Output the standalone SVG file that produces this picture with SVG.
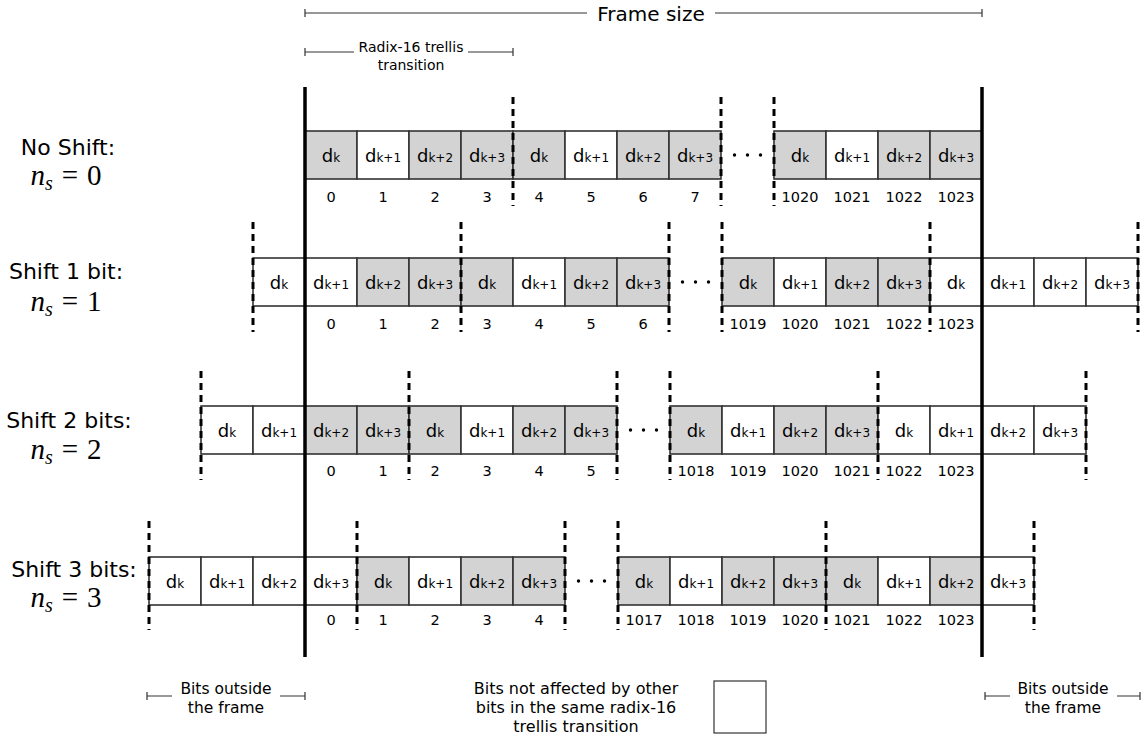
<svg xmlns="http://www.w3.org/2000/svg" width="1146" height="736" viewBox="0 0 1146 736">
<style>
.c{stroke:#333;stroke-width:1.6}
.g{fill:#d3d3d3}
.w{fill:#fff}
.t{font-family:"DejaVu Sans",sans-serif;font-size:18px;text-anchor:middle;fill:#000}
.s{font-size:12px}
.n{font-family:"DejaVu Sans",sans-serif;font-size:14.5px;text-anchor:middle;fill:#000}
.l{font-family:"DejaVu Sans",sans-serif;font-size:22px;text-anchor:middle;fill:#000}
.m{font-family:"Liberation Serif",serif;font-size:29px;text-anchor:middle;fill:#000}
.d{stroke:#000;stroke-width:3;stroke-dasharray:7 5;fill:none}
.th{stroke:#000;stroke-width:3.5;fill:none}
.r{stroke:#333;stroke-width:1.2;fill:none}
.sm{font-family:"DejaVu Sans",sans-serif;font-size:16px;text-anchor:middle;fill:#000}
.bo{font-family:"DejaVu Sans",sans-serif;font-size:15.5px;text-anchor:middle;fill:#000}
.rx{font-family:"DejaVu Sans",sans-serif;font-size:14px;text-anchor:middle;fill:#000}
</style>
<rect width="1146" height="736" fill="#fff"/>

<g id="frame-size">
<path class="r" d="M305 13H587M715 13H982M305 9V17M982 9V17"/>
<text x="651" y="21" font-family="DejaVu Sans,sans-serif" font-size="20" text-anchor="middle">Frame size</text>
</g>
<g id="radix-label">
<path class="r" d="M305 52H354M468 52H513M305 48V56M513 48V56"/>
<text class="rx" x="411" y="52">Radix-16 trellis</text>
<text class="rx" x="411" y="70">transition</text>
</g>

<g id="labels">
<text class="l" x="68" y="155">No Shift:</text>
<text class="m" x="66" y="185"><tspan font-style="italic">n</tspan><tspan font-style="italic" font-size="20" dy="5">s</tspan><tspan dy="-5" dx="9">=</tspan><tspan dx="9">0</tspan></text>
<text class="l" x="66" y="279">Shift 1 bit:</text>
<text class="m" x="66" y="311"><tspan font-style="italic">n</tspan><tspan font-style="italic" font-size="20" dy="5">s</tspan><tspan dy="-5" dx="9">=</tspan><tspan dx="9">1</tspan></text>
<text class="l" x="69" y="428">Shift 2 bits:</text>
<text class="m" x="66" y="459"><tspan font-style="italic">n</tspan><tspan font-style="italic" font-size="20" dy="5">s</tspan><tspan dy="-5" dx="9">=</tspan><tspan dx="9">2</tspan></text>
<text class="l" x="74" y="577">Shift 3 bits:</text>
<text class="m" x="66" y="607"><tspan font-style="italic">n</tspan><tspan font-style="italic" font-size="20" dy="5">s</tspan><tspan dy="-5" dx="9">=</tspan><tspan dx="9">3</tspan></text>
</g>

<g id="row0" transform="translate(0,131)">
<rect class="c g" x="305" y="0" width="52" height="48"/><text class="t" x="331" y="31">d<tspan class="s">k</tspan></text>
<rect class="c w" x="357" y="0" width="52" height="48"/><text class="t" x="383" y="31">d<tspan class="s">k+1</tspan></text>
<rect class="c g" x="409" y="0" width="52" height="48"/><text class="t" x="435" y="31">d<tspan class="s">k+2</tspan></text>
<rect class="c g" x="461" y="0" width="52" height="48"/><text class="t" x="487" y="31">d<tspan class="s">k+3</tspan></text>
<rect class="c g" x="513" y="0" width="52" height="48"/><text class="t" x="539" y="31">d<tspan class="s">k</tspan></text>
<rect class="c w" x="565" y="0" width="52" height="48"/><text class="t" x="591" y="31">d<tspan class="s">k+1</tspan></text>
<rect class="c g" x="617" y="0" width="52" height="48"/><text class="t" x="643" y="31">d<tspan class="s">k+2</tspan></text>
<rect class="c g" x="669" y="0" width="52" height="48"/><text class="t" x="695" y="31">d<tspan class="s">k+3</tspan></text>
<rect class="c g" x="774" y="0" width="52" height="48"/><text class="t" x="800" y="31">d<tspan class="s">k</tspan></text>
<rect class="c w" x="826" y="0" width="52" height="48"/><text class="t" x="852" y="31">d<tspan class="s">k+1</tspan></text>
<rect class="c g" x="878" y="0" width="52" height="48"/><text class="t" x="904" y="31">d<tspan class="s">k+2</tspan></text>
<rect class="c g" x="930" y="0" width="52" height="48"/><text class="t" x="956" y="31">d<tspan class="s">k+3</tspan></text>
<g fill="#000"><circle cx="734.5" cy="24" r="1.7"/><circle cx="747.5" cy="24" r="1.7"/><circle cx="760.5" cy="24" r="1.7"/></g>
<text class="n" x="331" y="71">0</text><text class="n" x="383" y="71">1</text><text class="n" x="435" y="71">2</text><text class="n" x="487" y="71">3</text>
<text class="n" x="539" y="71">4</text><text class="n" x="591" y="71">5</text><text class="n" x="643" y="71">6</text><text class="n" x="695" y="71">7</text>
<text class="n" x="800" y="71">1020</text><text class="n" x="852" y="71">1021</text><text class="n" x="904" y="71">1022</text><text class="n" x="956" y="71">1023</text>
</g>

<g id="row1" transform="translate(0,258)">
<rect class="c w" x="253" y="0" width="52" height="48"/><text class="t" x="279" y="31">d<tspan class="s">k</tspan></text>
<rect class="c w" x="305" y="0" width="52" height="48"/><text class="t" x="331" y="31">d<tspan class="s">k+1</tspan></text>
<rect class="c g" x="357" y="0" width="52" height="48"/><text class="t" x="383" y="31">d<tspan class="s">k+2</tspan></text>
<rect class="c g" x="409" y="0" width="52" height="48"/><text class="t" x="435" y="31">d<tspan class="s">k+3</tspan></text>
<rect class="c g" x="461" y="0" width="52" height="48"/><text class="t" x="487" y="31">d<tspan class="s">k</tspan></text>
<rect class="c w" x="513" y="0" width="52" height="48"/><text class="t" x="539" y="31">d<tspan class="s">k+1</tspan></text>
<rect class="c g" x="565" y="0" width="52" height="48"/><text class="t" x="591" y="31">d<tspan class="s">k+2</tspan></text>
<rect class="c g" x="617" y="0" width="52" height="48"/><text class="t" x="643" y="31">d<tspan class="s">k+3</tspan></text>
<rect class="c g" x="722" y="0" width="52" height="48"/><text class="t" x="748" y="31">d<tspan class="s">k</tspan></text>
<rect class="c w" x="774" y="0" width="52" height="48"/><text class="t" x="800" y="31">d<tspan class="s">k+1</tspan></text>
<rect class="c g" x="826" y="0" width="52" height="48"/><text class="t" x="852" y="31">d<tspan class="s">k+2</tspan></text>
<rect class="c g" x="878" y="0" width="52" height="48"/><text class="t" x="904" y="31">d<tspan class="s">k+3</tspan></text>
<rect class="c w" x="930" y="0" width="52" height="48"/><text class="t" x="956" y="31">d<tspan class="s">k</tspan></text>
<rect class="c w" x="982" y="0" width="52" height="48"/><text class="t" x="1008" y="31">d<tspan class="s">k+1</tspan></text>
<rect class="c w" x="1034" y="0" width="52" height="48"/><text class="t" x="1060" y="31">d<tspan class="s">k+2</tspan></text>
<rect class="c w" x="1086" y="0" width="52" height="48"/><text class="t" x="1112" y="31">d<tspan class="s">k+3</tspan></text>
<g fill="#000"><circle cx="682.5" cy="24" r="1.7"/><circle cx="695.5" cy="24" r="1.7"/><circle cx="708.5" cy="24" r="1.7"/></g>
<text class="n" x="331" y="71">0</text><text class="n" x="383" y="71">1</text><text class="n" x="435" y="71">2</text><text class="n" x="487" y="71">3</text>
<text class="n" x="539" y="71">4</text><text class="n" x="591" y="71">5</text><text class="n" x="643" y="71">6</text>
<text class="n" x="748" y="71">1019</text><text class="n" x="800" y="71">1020</text><text class="n" x="852" y="71">1021</text><text class="n" x="904" y="71">1022</text><text class="n" x="956" y="71">1023</text>
</g>

<g id="row2" transform="translate(0,406)">
<rect class="c w" x="201" y="0" width="52" height="48"/><text class="t" x="227" y="31">d<tspan class="s">k</tspan></text>
<rect class="c w" x="253" y="0" width="52" height="48"/><text class="t" x="279" y="31">d<tspan class="s">k+1</tspan></text>
<rect class="c g" x="305" y="0" width="52" height="48"/><text class="t" x="331" y="31">d<tspan class="s">k+2</tspan></text>
<rect class="c g" x="357" y="0" width="52" height="48"/><text class="t" x="383" y="31">d<tspan class="s">k+3</tspan></text>
<rect class="c g" x="409" y="0" width="52" height="48"/><text class="t" x="435" y="31">d<tspan class="s">k</tspan></text>
<rect class="c w" x="461" y="0" width="52" height="48"/><text class="t" x="487" y="31">d<tspan class="s">k+1</tspan></text>
<rect class="c g" x="513" y="0" width="52" height="48"/><text class="t" x="539" y="31">d<tspan class="s">k+2</tspan></text>
<rect class="c g" x="565" y="0" width="52" height="48"/><text class="t" x="591" y="31">d<tspan class="s">k+3</tspan></text>
<rect class="c g" x="670" y="0" width="52" height="48"/><text class="t" x="696" y="31">d<tspan class="s">k</tspan></text>
<rect class="c w" x="722" y="0" width="52" height="48"/><text class="t" x="748" y="31">d<tspan class="s">k+1</tspan></text>
<rect class="c g" x="774" y="0" width="52" height="48"/><text class="t" x="800" y="31">d<tspan class="s">k+2</tspan></text>
<rect class="c g" x="826" y="0" width="52" height="48"/><text class="t" x="852" y="31">d<tspan class="s">k+3</tspan></text>
<rect class="c w" x="878" y="0" width="52" height="48"/><text class="t" x="904" y="31">d<tspan class="s">k</tspan></text>
<rect class="c w" x="930" y="0" width="52" height="48"/><text class="t" x="956" y="31">d<tspan class="s">k+1</tspan></text>
<rect class="c w" x="982" y="0" width="52" height="48"/><text class="t" x="1008" y="31">d<tspan class="s">k+2</tspan></text>
<rect class="c w" x="1034" y="0" width="52" height="48"/><text class="t" x="1060" y="31">d<tspan class="s">k+3</tspan></text>
<g fill="#000"><circle cx="630.5" cy="24" r="1.7"/><circle cx="643.5" cy="24" r="1.7"/><circle cx="656.5" cy="24" r="1.7"/></g>
<text class="n" x="331" y="70">0</text><text class="n" x="383" y="70">1</text><text class="n" x="435" y="70">2</text><text class="n" x="487" y="70">3</text>
<text class="n" x="539" y="70">4</text><text class="n" x="591" y="70">5</text>
<text class="n" x="696" y="70">1018</text><text class="n" x="748" y="70">1019</text><text class="n" x="800" y="70">1020</text><text class="n" x="852" y="70">1021</text><text class="n" x="904" y="70">1022</text><text class="n" x="956" y="70">1023</text>
</g>

<g id="row3" transform="translate(0,557)">
<rect class="c w" x="149" y="0" width="52" height="48"/><text class="t" x="175" y="31">d<tspan class="s">k</tspan></text>
<rect class="c w" x="201" y="0" width="52" height="48"/><text class="t" x="227" y="31">d<tspan class="s">k+1</tspan></text>
<rect class="c w" x="253" y="0" width="52" height="48"/><text class="t" x="279" y="31">d<tspan class="s">k+2</tspan></text>
<rect class="c w" x="305" y="0" width="52" height="48"/><text class="t" x="331" y="31">d<tspan class="s">k+3</tspan></text>
<rect class="c g" x="357" y="0" width="52" height="48"/><text class="t" x="383" y="31">d<tspan class="s">k</tspan></text>
<rect class="c w" x="409" y="0" width="52" height="48"/><text class="t" x="435" y="31">d<tspan class="s">k+1</tspan></text>
<rect class="c g" x="461" y="0" width="52" height="48"/><text class="t" x="487" y="31">d<tspan class="s">k+2</tspan></text>
<rect class="c g" x="513" y="0" width="52" height="48"/><text class="t" x="539" y="31">d<tspan class="s">k+3</tspan></text>
<rect class="c g" x="618" y="0" width="52" height="48"/><text class="t" x="644" y="31">d<tspan class="s">k</tspan></text>
<rect class="c w" x="670" y="0" width="52" height="48"/><text class="t" x="696" y="31">d<tspan class="s">k+1</tspan></text>
<rect class="c g" x="722" y="0" width="52" height="48"/><text class="t" x="748" y="31">d<tspan class="s">k+2</tspan></text>
<rect class="c g" x="774" y="0" width="52" height="48"/><text class="t" x="800" y="31">d<tspan class="s">k+3</tspan></text>
<rect class="c g" x="826" y="0" width="52" height="48"/><text class="t" x="852" y="31">d<tspan class="s">k</tspan></text>
<rect class="c w" x="878" y="0" width="52" height="48"/><text class="t" x="904" y="31">d<tspan class="s">k+1</tspan></text>
<rect class="c g" x="930" y="0" width="52" height="48"/><text class="t" x="956" y="31">d<tspan class="s">k+2</tspan></text>
<rect class="c w" x="982" y="0" width="52" height="48"/><text class="t" x="1008" y="31">d<tspan class="s">k+3</tspan></text>
<g fill="#000"><circle cx="578.5" cy="24" r="1.7"/><circle cx="591.5" cy="24" r="1.7"/><circle cx="604.5" cy="24" r="1.7"/></g>
<text class="n" x="331" y="68">0</text><text class="n" x="383" y="68">1</text><text class="n" x="435" y="68">2</text><text class="n" x="487" y="68">3</text>
<text class="n" x="539" y="68">4</text>
<text class="n" x="644" y="68">1017</text><text class="n" x="696" y="68">1018</text><text class="n" x="748" y="68">1019</text><text class="n" x="800" y="68">1020</text><text class="n" x="852" y="68">1021</text><text class="n" x="904" y="68">1022</text><text class="n" x="956" y="68">1023</text>
</g>

<g id="connectors">
<path class="d" d="M513 97V206M721 97V206M774 97V206"/>
<path class="d" d="M253 222V332M461 222V332M669 222V332M722 222V332M930 222V332M1138 222V332"/>
<path class="d" d="M201 371V480M409 371V480M617 371V480M670 371V480M878 371V480M1086 371V480"/>
<path class="d" d="M149 521V630M357 521V630M565 521V630M618 521V630M826 521V630M1034 521V630"/>
<path class="th" d="M305 87V657M982 87V657"/>
</g>

<g id="legend-left">
<path class="r" d="M147 696H172M280 696H305M147 692V700M305 692V700"/>
<text class="bo" x="226" y="694">Bits outside</text>
<text class="bo" x="226" y="713">the frame</text>
</g>
<g id="legend-mid">
<text class="sm" x="576" y="694">Bits not affected by other</text>
<text class="sm" x="576" y="713">bits in the same radix-16</text>
<text class="sm" x="576" y="732">trellis transition</text>
<rect class="r" x="714" y="681" width="52" height="52" fill="#fff"/>
</g>
<g id="legend-right">
<path class="r" d="M985 696H1010M1117 696H1140M985 692V700M1140 692V700"/>
<text class="bo" x="1063" y="694">Bits outside</text>
<text class="bo" x="1063" y="713">the frame</text>
</g>
</svg>
